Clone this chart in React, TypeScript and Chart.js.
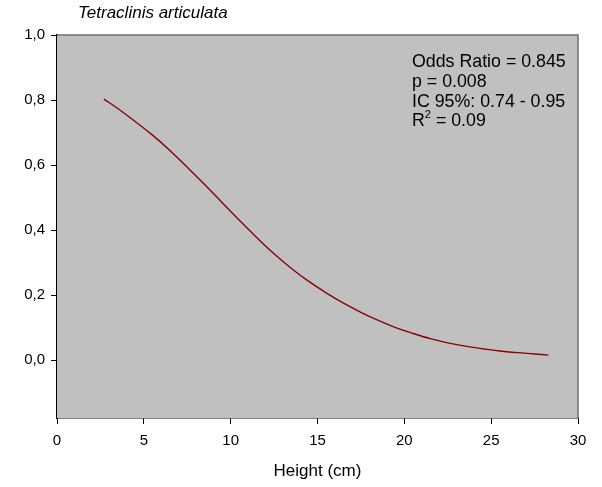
import React, { useEffect, useRef } from "react";
import { Chart, registerables } from "chart.js";

Chart.register(...registerables);

const chartTitle = "Tetraclinis articulata";
const xAxisTitle = "Height (cm)";
const annotationLines = ["Odds Ratio = 0.845", "p = 0.008", "IC 95%: 0.74 - 0.95"];
const r2Value = "0.09";

const heights = [2.7, 3.5, 4.5, 5.5, 6.5, 7.5, 8.5, 9.5, 10.5, 11.5, 12.5, 13.5, 14.5, 15.5, 16.5, 17.5, 18.5, 19.5, 20.5, 21.5, 22.5, 23.5, 24.5, 25.5, 26.5, 27.5, 28.3];
const probabilities = [0.803, 0.774, 0.734, 0.692, 0.645, 0.593, 0.54, 0.485, 0.43, 0.377, 0.327, 0.282, 0.242, 0.207, 0.175, 0.147, 0.122, 0.1, 0.082, 0.066, 0.053, 0.043, 0.035, 0.028, 0.023, 0.019, 0.0155];

const yTickValues = [0, 0.2, 0.4, 0.6, 0.8, 1.0];
const xTickValues = [0, 5, 10, 15, 20, 25, 30];

const FONT = "'Liberation Sans', Arial, sans-serif";

export default function App() {
  const ref = useRef<HTMLCanvasElement>(null);
  useEffect(() => {
    document.body.style.margin = "0";
    const canvas = ref.current;
    if (!canvas) return;

    const decor = {
      id: "decor",
      beforeDatasetsDraw(chart: any) {
        const { ctx, chartArea: a } = chart;
        ctx.save();
        ctx.fillStyle = "#C0C0C0";
        ctx.fillRect(a.left, a.top, a.right - a.left, a.bottom - a.top);
        ctx.strokeStyle = "#707070";
        ctx.lineWidth = 1.5;
        ctx.beginPath();
        ctx.moveTo(a.left, a.top);
        ctx.lineTo(a.right, a.top);
        ctx.lineTo(a.right, a.bottom);
        ctx.stroke();
        ctx.restore();
      },
      afterDraw(chart: any) {
        const { ctx } = chart;
        ctx.save();
        ctx.fillStyle = "#000";
        ctx.textBaseline = "middle";
        ctx.textAlign = "left";
        ctx.font = `italic 17px ${FONT}`;
        ctx.fillText(chartTitle, 78, 13);
        ctx.font = `17.8px ${FONT}`;
        const x0 = 412;
        const ys = [62, 82, 102, 121];
        annotationLines.forEach((t, i) => ctx.fillText(t, x0, ys[i]));
        ctx.fillText("R", x0, ys[3]);
        const rw = ctx.measureText("R").width;
        ctx.font = `11px ${FONT}`;
        ctx.fillText("2", x0 + rw, ys[3] - 6);
        const sw = ctx.measureText("2").width;
        ctx.font = `17.8px ${FONT}`;
        ctx.fillText(" = " + r2Value, x0 + rw + sw, ys[3]);
        ctx.restore();
      },
    };

    const chart = new Chart(canvas, {
      type: "scatter",
      data: {
        datasets: [
          {
            data: heights.map((h, i) => ({ x: h, y: probabilities[i] })),
            showLine: true,
            borderColor: "#8B0000",
            borderWidth: 1.4,
            pointRadius: 0,
            tension: 0.4,
          },
        ],
      },
      options: {
        responsive: false,
        animation: false,
        layout: { padding: { left: 0, right: 24, top: 35, bottom: 0 } },
        plugins: { legend: { display: false }, tooltip: { enabled: false }, title: { display: false } },
        scales: {
          x: {
            type: "linear",
            min: 0,
            max: 30,
            afterFit: (s: any) => { s.height = 69; },
            afterBuildTicks: (s: any) => { s.ticks = xTickValues.map((v) => ({ value: v })); },
            grid: { drawOnChartArea: false, drawTicks: true, tickLength: 6, color: "#000" },
            border: { display: true, color: "#000", width: 1.5 },
            ticks: { color: "#000", font: { family: FONT, size: 15 }, padding: 8, maxRotation: 0 },
            title: { display: true, text: xAxisTitle, color: "#000", font: { family: FONT, size: 17 }, padding: { top: 0, bottom: 5 } },
          },
          y: {
            type: "linear",
            min: -0.178,
            max: 1.0,
            afterFit: (s: any) => { s.width = 57; },
            afterBuildTicks: (s: any) => { s.ticks = yTickValues.map((v) => ({ value: v })); },
            grid: { drawOnChartArea: false, drawTicks: true, tickLength: 6, color: "#000" },
            border: { display: true, color: "#000", width: 1.5 },
            ticks: {
              color: "#000",
              font: { family: FONT, size: 15 },
              padding: 6,
              callback: (v: any) => Number(v).toFixed(1).replace(".", ","),
            },
          },
        },
      },
      plugins: [decor],
    });
    return () => chart.destroy();
  }, []);
  return (
    <div style={{ width: 602, height: 487, background: "#fff" }}>
      <canvas ref={ref} width={602} height={487} />
    </div>
  );
}
